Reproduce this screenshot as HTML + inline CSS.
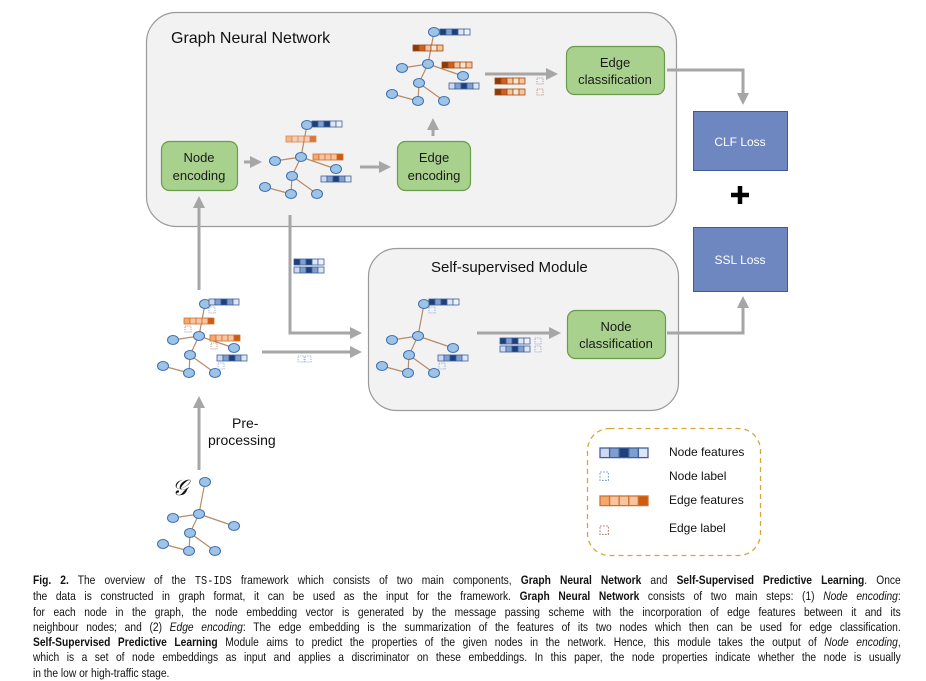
<!DOCTYPE html>
<html><head><meta charset="utf-8"><style>
html,body{margin:0;padding:0;background:#fff;width:926px;height:675px;overflow:hidden}
svg{position:absolute;left:0;top:0}
.cap{position:absolute;left:33px;top:573px;width:1033px;transform:scaleX(0.84);transform-origin:0 0;font-family:"Liberation Sans",sans-serif;font-size:12.2px;line-height:15.3px;color:#111}
.cap div{text-align:justify;text-align-last:justify;white-space:nowrap}
.cap div.l{text-align-last:left}
.m{font-family:"Liberation Mono",monospace}
</style></head><body>
<svg width="926" height="675" viewBox="0 0 926 675" xmlns="http://www.w3.org/2000/svg" font-family="Liberation Sans, sans-serif">
<defs>
<g id="tree">
 <g stroke="#b98a66" stroke-width="1.2">
  <line x1="0" y1="0" x2="6" y2="-32"/><line x1="0" y1="0" x2="-26" y2="4"/><line x1="0" y1="0" x2="35" y2="12"/>
  <line x1="0" y1="0" x2="-9" y2="19"/><line x1="-9" y1="19" x2="-10" y2="37"/><line x1="-9" y1="19" x2="16" y2="37"/>
  <line x1="-36" y1="30" x2="-10" y2="37"/>
 </g>
 <g fill="#9dc3e6" stroke="#3f6fb0" stroke-width="1">
  <ellipse cx="0" cy="0" rx="5.5" ry="4.5"/><ellipse cx="6" cy="-32" rx="5.5" ry="4.5"/><ellipse cx="-26" cy="4" rx="5.5" ry="4.5"/>
  <ellipse cx="35" cy="12" rx="5.5" ry="4.5"/><ellipse cx="-9" cy="19" rx="5.5" ry="4.5"/><ellipse cx="-36" cy="30" rx="5.5" ry="4.5"/>
  <ellipse cx="-10" cy="37" rx="5.5" ry="4.5"/><ellipse cx="16" cy="37" rx="5.5" ry="4.5"/>
 </g>
</g>
<g id="nb" stroke="#3f5f9a" stroke-width="0.8">
 <rect x="0" y="0" width="6" height="6" fill="#1f3f7a"/><rect x="6" y="0" width="6" height="6" fill="#7f9fd0"/>
 <rect x="12" y="0" width="6" height="6" fill="#1f3f7a"/><rect x="18" y="0" width="6" height="6" fill="#dde6f5"/>
 <rect x="24" y="0" width="6" height="6" fill="#eef2fa"/>
</g>
<g id="nb2" stroke="#3f5f9a" stroke-width="0.8">
 <rect x="0" y="0" width="6" height="6" fill="#cdd9ef"/><rect x="6" y="0" width="6" height="6" fill="#7f9fd0"/>
 <rect x="12" y="0" width="6" height="6" fill="#1f3f7a"/><rect x="18" y="0" width="6" height="6" fill="#7f9fd0"/>
 <rect x="24" y="0" width="6" height="6" fill="#dde6f5"/>
</g>
<g id="eb" stroke="#d07030" stroke-width="0.8">
 <rect x="0" y="0" width="6" height="6" fill="#f4a870"/><rect x="6" y="0" width="6" height="6" fill="#f7c4a0"/>
 <rect x="12" y="0" width="6" height="6" fill="#f7c4a0"/><rect x="18" y="0" width="6" height="6" fill="#f7c4a0"/>
 <rect x="24" y="0" width="6" height="6" fill="#d05a10"/>
</g>
<g id="eb2" stroke="#a04a10" stroke-width="0.8">
 <rect x="0" y="0" width="6" height="6" fill="#8a3a08"/><rect x="6" y="0" width="6" height="6" fill="#d06020"/>
 <rect x="12" y="0" width="6" height="6" fill="#f7c4a0"/><rect x="18" y="0" width="6" height="6" fill="#fde4d0"/>
 <rect x="24" y="0" width="6" height="6" fill="#f7c4a0"/>
</g>
<rect id="nl" x="0" y="0" width="6" height="6" fill="none" stroke="#7f9fd0" stroke-width="0.8" stroke-dasharray="1.2,1"/>
<rect id="el" x="0" y="0" width="6" height="6" fill="none" stroke="#b08070" stroke-width="0.8" stroke-dasharray="1.2,1"/>
<marker id="ar" markerWidth="4" markerHeight="4" refX="2" refY="2" orient="auto" markerUnits="strokeWidth"><path d="M0,0 L4,2 L0,4 z" fill="#a6a6a6"/></marker>
</defs>

<rect x="146.5" y="12.5" width="530" height="214" rx="30" fill="#f2f2f2" stroke="#9a9a9a" stroke-width="1.2"/>
<rect x="368.5" y="248.5" width="310" height="162" rx="28" fill="#f2f2f2" stroke="#9a9a9a" stroke-width="1.2"/>
<text x="171" y="43" font-size="16" fill="#111">Graph Neural Network</text>
<text x="431" y="272" font-size="15" fill="#111">Self-supervised Module</text>

<g stroke="#a6a6a6" stroke-width="3" fill="none">
 <line x1="199" y1="290" x2="199" y2="202" marker-end="url(#ar)"/>
 <line x1="199" y1="470" x2="199" y2="402" marker-end="url(#ar)"/>
 <line x1="244" y1="162" x2="256" y2="162" marker-end="url(#ar)"/>
 <line x1="360" y1="167" x2="385" y2="167" marker-end="url(#ar)"/>
 <line x1="433" y1="136" x2="433" y2="124" marker-end="url(#ar)"/>
 <line x1="485" y1="74" x2="552" y2="74" marker-end="url(#ar)"/>
 <polyline points="667,70 743,70 743,99" marker-end="url(#ar)"/>
 <polyline points="290,215 290,333 356,333" marker-end="url(#ar)"/>
 <line x1="262" y1="352" x2="356" y2="352" marker-end="url(#ar)"/>
 <line x1="477" y1="333" x2="555" y2="333" marker-end="url(#ar)"/>
 <polyline points="667,333 743,333 743,302" marker-end="url(#ar)"/>
</g>

<g fill="#a9d18e" stroke="#6a9a4c" stroke-width="1.2">
 <rect x="161.5" y="141.5" width="76" height="49" rx="8"/>
 <rect x="397.5" y="141.5" width="73" height="49" rx="8"/>
 <rect x="566.5" y="46.5" width="98" height="48" rx="8"/>
 <rect x="567.5" y="310.5" width="98" height="48" rx="8"/>
</g>
<g font-size="13" fill="#1a1a1a" text-anchor="middle">
 <text x="199" y="162">Node</text><text x="199" y="180">encoding</text>
 <text x="434" y="162">Edge</text><text x="434" y="180">encoding</text>
 <text x="615" y="67">Edge</text><text x="615" y="84">classification</text>
 <text x="616" y="331">Node</text><text x="616" y="348">classification</text>
</g>

<rect x="693.5" y="111.5" width="94" height="59" fill="#6f87c0" stroke="#3f5a95" stroke-width="1"/>
<rect x="693.5" y="227.5" width="94" height="64" fill="#6f87c0" stroke="#3f5a95" stroke-width="1"/>
<text x="740" y="146" font-size="12" fill="#fff" text-anchor="middle">CLF Loss</text>
<text x="740" y="264" font-size="12" fill="#fff" text-anchor="middle">SSL Loss</text>
<path d="M740,186 V204 M731,195 H749" stroke="#000" stroke-width="4.5"/>

<use href="#tree" x="301" y="157"/>
<use href="#tree" x="428" y="64"/>
<use href="#tree" x="199" y="336"/>
<use href="#tree" x="418" y="336"/>
<use href="#tree" x="199" y="514"/>

<use href="#nb" x="312" y="121"/>
<use href="#eb" x="286" y="136" opacity="0.8"/>
<use href="#eb" x="313" y="154"/>
<use href="#nb2" x="321" y="176"/>
<use href="#nb" x="440" y="29"/>
<use href="#eb2" x="413" y="45"/>
<use href="#eb2" x="442" y="62"/>
<use href="#nb2" x="449" y="83"/>
<use href="#eb2" x="495" y="78"/><use href="#el" x="537" y="78"/>
<use href="#eb2" x="495" y="89"/><use href="#el" x="537" y="89"/>
<use href="#nb" x="294" y="259"/><use href="#nb2" x="294" y="267"/>
<use href="#nb2" x="209" y="299"/><use href="#nl" x="209" y="307"/>
<use href="#eb" x="184" y="318"/><use href="#el" x="185" y="326"/>
<use href="#eb" x="210" y="335"/><use href="#el" x="211" y="343"/>
<use href="#nb2" x="217" y="355"/><use href="#nl" x="218" y="363"/>
<use href="#nl" x="298" y="356"/><use href="#nl" x="305" y="356"/>
<use href="#nb" x="429" y="299"/><use href="#nl" x="429" y="307"/>
<use href="#nb2" x="438" y="355"/><use href="#nl" x="439" y="363"/>
<use href="#nb" x="500" y="338"/><use href="#nl" x="535" y="338"/>
<use href="#nb2" x="500" y="346"/><use href="#nl" x="535" y="346"/>

<text x="232" y="428" font-size="14" fill="#111">Pre-</text>
<text x="208" y="445" font-size="14" fill="#111">processing</text>
<text x="172" y="495" font-size="22" font-style="italic" font-family="Liberation Serif, serif" fill="#111">𝒢</text>

<rect x="587.5" y="428.5" width="173" height="127" rx="22" fill="none" stroke="#d4a838" stroke-width="1.3" stroke-dasharray="5,4"/>
<g transform="translate(600,448) scale(1.6)"><use href="#nb2"/></g>
<g transform="translate(600,472) scale(1.4)"><use href="#nl"/></g>
<g transform="translate(600,496) scale(1.6)"><use href="#eb"/></g>
<g transform="translate(600,526) scale(1.4)"><use href="#el"/></g>
<g font-size="12" fill="#111">
 <text x="669" y="456">Node features</text>
 <text x="669" y="480">Node label</text>
 <text x="669" y="504">Edge features</text>
 <text x="669" y="532">Edge label</text>
</g>
</svg>
<div class="cap">
<div><b>Fig. 2.</b> The overview of the <span class="m">TS-IDS</span> framework which consists of two main components, <b>Graph Neural Network</b> and <b>Self-Supervised Predictive Learning</b>. Once</div>
<div>the data is constructed in graph format, it can be used as the input for the framework. <b>Graph Neural Network</b> consists of two main steps: (1) <i>Node encoding</i>:</div>
<div>for each node in the graph, the node embedding vector is generated by the message passing scheme with the incorporation of edge features between it and its</div>
<div>neighbour nodes; and (2) <i>Edge encoding</i>: The edge embedding is the summarization of the features of its two nodes which then can be used for edge classification.</div>
<div><b>Self-Supervised Predictive Learning</b> Module aims to predict the properties of the given nodes in the network. Hence, this module takes the output of <i>Node encoding</i>,</div>
<div>which is a set of node embeddings as input and applies a discriminator on these embeddings. In this paper, the node properties indicate whether the node is usually</div>
<div class="l">in the low or high-traffic stage.</div>
</div>
</body></html>
